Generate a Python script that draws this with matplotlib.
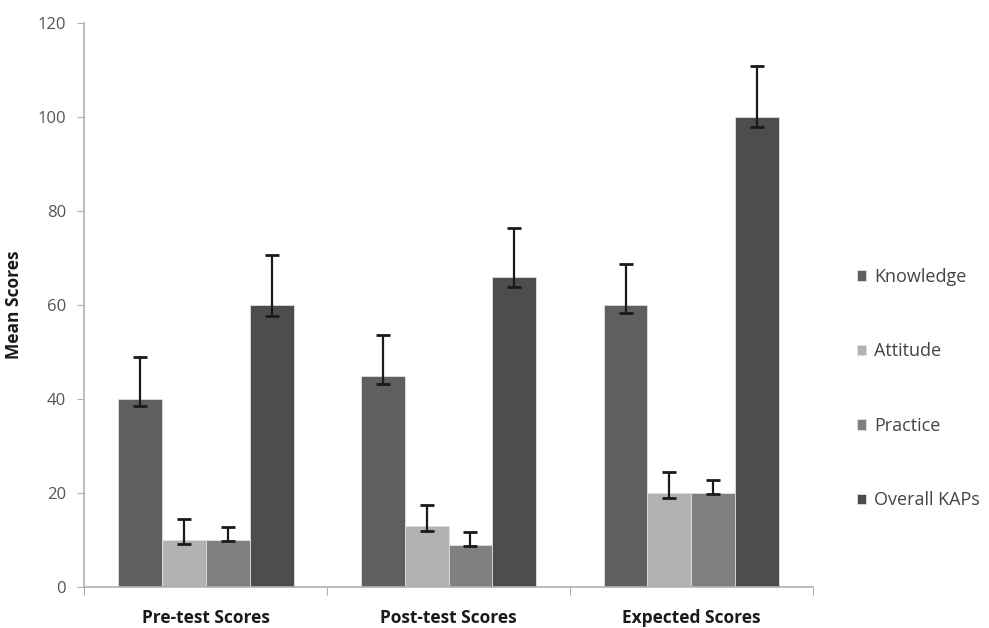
import numpy as np
import matplotlib.pyplot as plt

groups = ["Pre-test Scores", "Post-test Scores", "Expected Scores"]
series = ["Knowledge", "Attitude", "Practice", "Overall KAPs"]
colors = ["#5f5f5f", "#b2b2b2", "#808080", "#4d4d4d"]

# mean scores per series (pre, post, expected)
means = {
    "Knowledge": [40, 45, 60],
    "Attitude": [10, 13, 20],
    "Practice": [10, 9, 20],
    "Overall KAPs": [60, 66, 100],
}
# error bar ends
err_high = {
    "Knowledge": [48.9, 53.6, 68.7],
    "Attitude": [14.5, 17.4, 24.5],
    "Practice": [12.7, 11.8, 22.8],
    "Overall KAPs": [70.6, 76.5, 110.8],
}
err_low = {
    "Knowledge": [38.5, 43.3, 58.4],
    "Attitude": [9.1, 12.0, 19.0],
    "Practice": [9.8, 8.8, 19.9],
    "Overall KAPs": [57.8, 63.8, 97.9],
}

plt.rcParams['font.family'] = ['Open Sans', 'DejaVu Sans']

fig = plt.figure(figsize=(9.89, 6.28), dpi=100)
ax = fig.add_axes([0.085, 0.065, 0.737, 0.898])

x = np.arange(len(groups))
w = 0.181
for i, s in enumerate(series):
    pos = x + (i - 1.5) * w
    vals = np.array(means[s])
    lo = vals - np.array(err_low[s])
    hi = np.array(err_high[s]) - vals
    ax.bar(pos, vals, w, color=colors[i], edgecolor="#e0e0e0", linewidth=0.6,
           label=s, zorder=2)
    ax.errorbar(pos, vals, yerr=[lo, hi], fmt="none", ecolor="#1a1a1a",
                elinewidth=1.6, capsize=5, capthick=2, zorder=3)

ax.set_xlim(-0.5, 2.5)
ax.set_ylim(0, 120)
ax.set_yticks(range(0, 121, 20))
ax.set_xticks([-0.5, 0.5, 1.5, 2.5])
ax.set_xticklabels([])
ax.set_xticks(x, minor=True)
ax.set_xticklabels(groups, minor=True, fontsize=12.5, fontweight="bold", color="#1a1a1a")
ax.tick_params(axis="x", which="minor", length=0, pad=16)
ax.tick_params(axis="x", which="major", length=6, color="#b0b0b0")
ax.tick_params(axis="y", length=5, color="#b0b0b0", labelsize=12, labelcolor="#555555", pad=8)

for sp in ["top", "right"]:
    ax.spines[sp].set_visible(False)
for sp in ["left", "bottom"]:
    ax.spines[sp].set_color("#b0b0b0")
    ax.spines[sp].set_linewidth(1.2)

ax.set_ylabel("Mean Scores", fontsize=12.5, fontweight="bold", color="#1a1a1a", labelpad=10)

leg = ax.legend(loc="center left", bbox_to_anchor=(1.038, 0.352), frameon=False,
                fontsize=13, labelspacing=3.13, handlelength=0.5, handleheight=0.5,
                handletextpad=0.45, labelcolor="#444444")

fig.savefig("out.png", dpi=100)
